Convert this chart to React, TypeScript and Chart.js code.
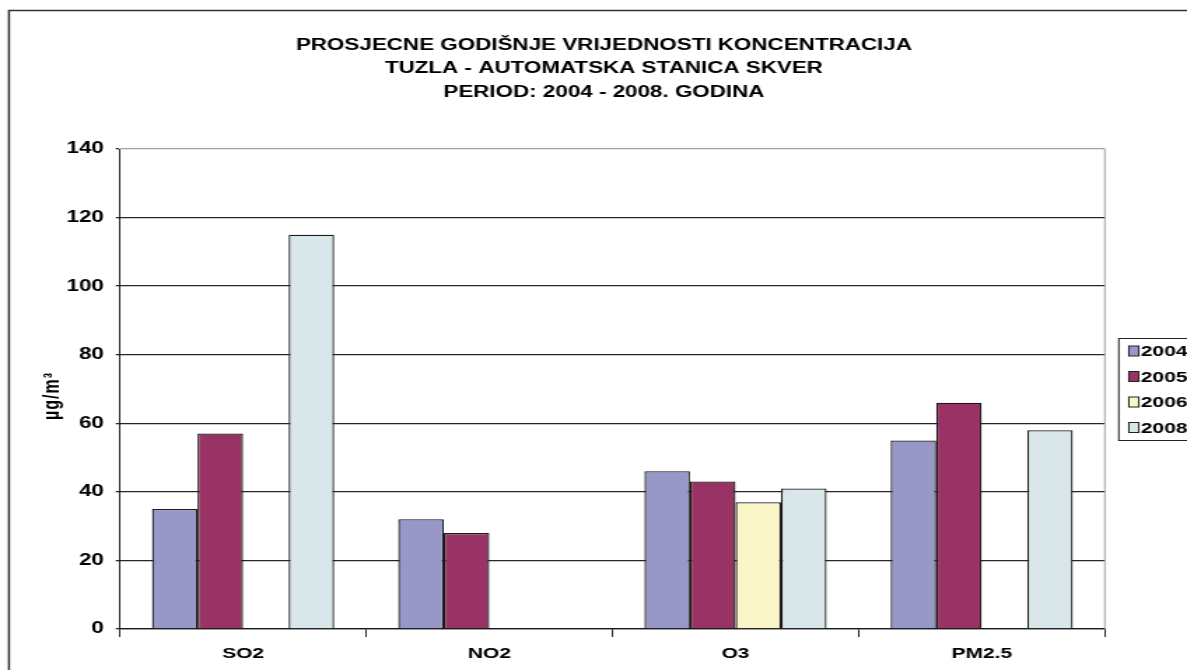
import React, { useEffect, useRef } from "react";
import { Chart, registerables } from "chart.js";

Chart.register(...registerables);

const categories = ["SO2", "NO2", "O3", "PM2.5"];
const seriesLabels = ["2004", "2005", "2006", "2008"];
const values2004 = [35, 32, 46, 55];
const values2005 = [57, 28, 43, 66];
const values2006 = [null, null, 37, null];
const values2008 = [115, null, 41, 58];
const seriesColors = ["#9797C8", "#993366", "#FBF6C8", "#D9E7EB"];
const titleLines = [
  "PROSJECNE GODIŠNJE VRIJEDNOSTI KONCENTRACIJA",
  "TUZLA - AUTOMATSKA STANICA SKVER",
  "PERIOD: 2004 - 2008. GODINA",
];
const yAxisTitle = "µg/m³";
const yTickValues = [0, 20, 40, 60, 80, 100, 120, 140];

// the reference image is horizontally stretched; render narrower and stretch via CSS
const PAGE_W = 1187;
const PAGE_H = 670;
const STRETCH = 1.4;
const W = Math.round(PAGE_W / STRETCH);
const px = (x: number) => x / STRETCH;

const FONT = "Arial, 'Liberation Sans', sans-serif";

const decorPlugin = {
  id: "decor",
  beforeDraw(chart: any) {
    const ctx = chart.ctx;
    ctx.save();
    ctx.fillStyle = "#ffffff";
    ctx.fillRect(0, 0, chart.width, chart.height);
    ctx.strokeStyle = "#333333";
    ctx.lineWidth = 1.5;
    ctx.strokeRect(px(9), 10.5, chart.width + 50, chart.height + 50);
    ctx.restore();
  },
  afterDraw(chart: any) {
    const ctx = chart.ctx;
    const area = chart.chartArea;
    ctx.save();
    // right border of plot
    ctx.strokeStyle = "#a0a0a0";
    ctx.lineWidth = 1;
    ctx.beginPath();
    ctx.moveTo(area.right, area.top);
    ctx.lineTo(area.right, area.bottom);
    ctx.stroke();

    // title
    ctx.fillStyle = "#000000";
    ctx.font = `bold 16px ${FONT}`;
    ctx.textAlign = "center";
    ctx.textBaseline = "alphabetic";
    const baseYs = [49.5, 73, 96.5];
    titleLines.forEach((t, i) => ctx.fillText(t, px(604), baseYs[i]));

    // y-axis title (rotated)
    ctx.save();
    ctx.translate(px(52), 396);
    ctx.rotate(-Math.PI / 2);
    ctx.font = `bold 16px ${FONT}`;
    (ctx as any).letterSpacing = "1px";
    ctx.textAlign = "center";
    ctx.textBaseline = "middle";
    ctx.fillText(yAxisTitle, 0, 0);
    ctx.restore();

    // legend
    ctx.strokeStyle = "#222222";
    ctx.lineWidth = 1;
    ctx.fillStyle = "#ffffff";
    ctx.fillRect(px(1119), 338, 120, 102);
    ctx.strokeRect(px(1119), 338.5, 120, 102);
    const rows = [351, 376.5, 402, 427.5];
    chart.data.datasets.forEach((ds: any, i: number) => {
      const y = rows[i];
      ctx.fillStyle = ds.backgroundColor;
      ctx.fillRect(px(1129), y - 5, px(10), 10);
      ctx.strokeStyle = "#222222";
      ctx.strokeRect(px(1129), y - 5, px(10), 10);
      ctx.fillStyle = "#000000";
      ctx.font = `bold 15px ${FONT}`;
      ctx.textAlign = "left";
      ctx.textBaseline = "middle";
      ctx.fillText(ds.label, px(1141), y + 1);
    });
    ctx.restore();
  },
};

export default function App() {
  const ref = useRef<HTMLCanvasElement | null>(null);

  useEffect(() => {
    const canvas = ref.current;
    if (!canvas) return;
    const seriesValues = [values2004, values2005, values2006, values2008];
    const chart = new Chart(canvas, {
      type: "bar",
      data: {
        labels: categories,
        datasets: seriesLabels.map((label, i) => ({
          label,
          data: seriesValues[i] as any,
          backgroundColor: seriesColors[i],
          borderColor: "#1a1a1a",
          borderWidth: 1.3,
          categoryPercentage: 0.74,
          barPercentage: 1.0,
        })),
      },
      options: {
        responsive: false,
        maintainAspectRatio: false,
        animation: false,
        devicePixelRatio: 1,
        layout: {
          padding: { top: 149, right: W - px(1105), bottom: 0, left: 0 },
        },
        plugins: {
          legend: { display: false },
          title: { display: false },
          tooltip: { enabled: false },
        },
        scales: {
          x: {
            afterFit: (scale: any) => {
              scale.height = PAGE_H - 629;
            },
            border: { display: true, color: "#1a1a1a", width: 1.3 },
            grid: {
              display: true,
              drawOnChartArea: false,
              drawTicks: true,
              tickLength: 8,
              offset: true,
              color: "#222222",
              tickColor: "#222222",
            },
            ticks: {
              color: "#000000",
              padding: 8,
              font: { family: FONT, size: 15, weight: "bold" },
              maxRotation: 0,
            },
          },
          y: {
            min: 0,
            max: 140,
            afterFit: (scale: any) => {
              scale.width = px(120);
            },
            afterBuildTicks: (scale: any) => {
              scale.ticks = yTickValues.map((v) => ({ value: v }));
            },
            border: { display: true, color: "#1a1a1a", width: 1 },
            grid: {
              color: (c: any) => (c.tick && c.tick.value === 140 ? "#a0a0a0" : "#262626"),
              tickColor: "#222222",
              tickLength: 3,
              lineWidth: 1.3,
            },
            ticks: {
              color: "#000000",
              padding: 8.5,
              font: { family: FONT, size: 16, weight: "bold" },
            },
          },
        },
      },
      plugins: [decorPlugin],
    });
    return () => chart.destroy();
  }, []);

  return (
    <div
      style={{
        position: "fixed",
        left: 0,
        top: 0,
        width: PAGE_W,
        height: PAGE_H,
        overflow: "hidden",
        background: "#ffffff",
      }}
    >
      <canvas
        ref={ref}
        width={W}
        height={PAGE_H}
        style={{ width: PAGE_W, height: PAGE_H, display: "block" }}
      />
    </div>
  );
}
